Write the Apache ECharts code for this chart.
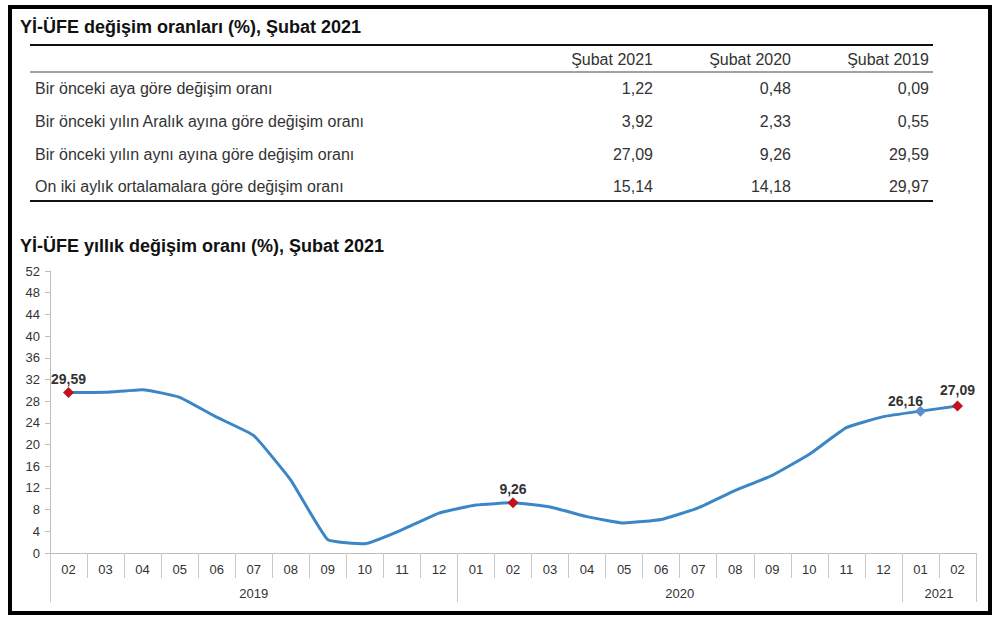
<!DOCTYPE html>
<html>
<head>
<meta charset="utf-8">
<script src="https://cdn.jsdelivr.net/npm/echarts@6/dist/echarts.min.js"></script>
<style>
html,body{margin:0;padding:0;background:#fff;}
#chart{width:1000px;height:624px;}
</style>
</head>
<body>
<div id="chart"></div>
<script>
// ---- Data ----
const tableTitle = 'Yİ-ÜFE değişim oranları (%), Şubat 2021';
const chartTitle = 'Yİ-ÜFE yıllık değişim oranı (%), Şubat 2021';
const tableColumns = ['Şubat 2021', 'Şubat 2020', 'Şubat 2019'];
const tableRowLabels = [
  'Bir önceki aya göre değişim oranı',
  'Bir önceki yılın Aralık ayına göre değişim oranı',
  'Bir önceki yılın aynı ayına göre değişim oranı',
  'On iki aylık ortalamalara göre değişim oranı'
];
const feb2021 = [1.22, 3.92, 27.09, 15.14];
const feb2020 = [0.48, 2.33, 9.26, 14.18];
const feb2019 = [0.09, 0.55, 29.59, 29.97];

const months = ['02','03','04','05','06','07','08','09','10','11','12',
                '01','02','03','04','05','06','07','08','09','10','11','12',
                '01','02'];
const yearLabels = ['2019', '2020', '2021'];
const yearCounts = [11, 12, 2];
const annualChange = [29.59, 29.64, 30.12, 28.71, 25.04, 21.66, 13.45, 2.45, 1.70, 4.26, 7.36,
                      8.84, 9.26, 8.50, 6.71, 5.53, 6.17, 8.33, 11.53, 14.33, 18.20, 23.11, 25.15,
                      26.16, 27.09];
const redPoints = [0, 12, 24];
const bluePoints = [23];

const yMin = 0, yMax = 52, yStep = 4;

// ---- Style helpers ----
const FONT = '"Liberation Sans", Arial, sans-serif';
const fmt = v => v.toFixed(2).replace('.', ',');
const labelOffsets = { 23: [-15, 3], 24: [0, -3] };

const groupBounds = [0];
yearCounts.forEach(c => groupBounds.push(groupBounds[groupBounds.length - 1] + c));
const groupCenters = yearCounts.map((c, i) => groupBounds[i] + c / 2);

const seriesData = annualChange.map((v, i) => {
  const item = { value: v };
  if (redPoints.includes(i) || bluePoints.includes(i)) {
    item.symbol = 'diamond';
    item.symbolSize = 11;
    item.itemStyle = { color: redPoints.includes(i) ? '#c0141c' : '#5b8ccb' };
    item.label = { show: true, offset: labelOffsets[i] || [0, 0] };
  }
  return item;
});

// ---- Table graphics ----
const graphics = [];
graphics.push({
  type: 'rect', shape: { x: 10, y: 7, width: 980, height: 606 },
  style: { fill: 'none', stroke: '#000', lineWidth: 4 }, z: 100
});
graphics.push({
  type: 'text', left: 20, top: 18,
  style: { text: tableTitle, font: 'bold 18px ' + FONT, fill: '#111' }
});
graphics.push({
  type: 'text', left: 20, top: 237,
  style: { text: chartTitle, font: 'bold 18px ' + FONT, fill: '#111' }
});
graphics.push({ type: 'line', shape: { x1: 30, y1: 45, x2: 933, y2: 45 }, style: { stroke: '#111', lineWidth: 2 } });
graphics.push({ type: 'line', shape: { x1: 30, y1: 72, x2: 933, y2: 72 }, style: { stroke: '#444', lineWidth: 1 } });
graphics.push({ type: 'line', shape: { x1: 30, y1: 201, x2: 933, y2: 201 }, style: { stroke: '#111', lineWidth: 2 } });

const colRight = [653, 791, 929];
const headerY = 59;
const rowY = [88, 121, 154, 186];
const tableFont = '16px ' + FONT;
tableColumns.forEach((c, i) => {
  graphics.push({
    type: 'text', x: colRight[i], y: headerY,
    style: { text: c, font: tableFont, fill: '#333', align: 'right', verticalAlign: 'middle' }
  });
});
const cols = [feb2021, feb2020, feb2019];
tableRowLabels.forEach((lab, r) => {
  graphics.push({
    type: 'text', x: 35, y: rowY[r],
    style: { text: lab, font: tableFont, fill: '#333', align: 'left', verticalAlign: 'middle' }
  });
  cols.forEach((col, ci) => {
    graphics.push({
      type: 'text', x: colRight[ci], y: rowY[r],
      style: { text: fmt(col[r]), font: tableFont, fill: '#333', align: 'right', verticalAlign: 'middle' }
    });
  });
});

// ---- Chart ----
const chart = echarts.init(document.getElementById('chart'), null, { renderer: 'svg' });
chart.setOption({
  animation: false,
  backgroundColor: '#fff',
  grid: { left: 50, right: 24, top: 271, bottom: 71 },
  xAxis: [
    {
      type: 'category',
      data: months,
      boundaryGap: true,
      axisLine: { show: true, lineStyle: { color: '#bdbdbd', width: 1 } },
      axisTick: { show: true, interval: 0, length: 25, lineStyle: { color: '#c8c8c8' } },
      axisLabel: { interval: 0, margin: 10, color: '#333', fontSize: 13, fontFamily: FONT },
      splitLine: { show: false }
    },
    {
      type: 'value',
      min: 0, max: months.length,
      position: 'bottom',
      axisLine: { show: false },
      axisTick: { show: true, customValues: groupBounds, length: 49, lineStyle: { color: '#c8c8c8' } },
      axisLabel: {
        show: true, customValues: groupCenters, margin: 34, color: '#333', fontSize: 13, fontFamily: FONT,
        formatter: v => { const i = groupCenters.indexOf(v); return i >= 0 ? yearLabels[i] : ''; }
      },
      splitLine: { show: false }
    }
  ],
  yAxis: {
    type: 'value',
    min: yMin, max: yMax, interval: yStep,
    axisLine: { show: true, lineStyle: { color: '#bdbdbd' } },
    axisTick: { show: true, length: 5, lineStyle: { color: '#bdbdbd' } },
    axisLabel: { margin: 10, color: '#333', fontSize: 13, fontFamily: FONT },
    splitLine: { show: false }
  },
  series: [{
    type: 'line',
    xAxisIndex: 0,
    data: seriesData,
    smooth: 0.12,
    showSymbol: true,
    symbol: 'none',
    lineStyle: { color: '#3a86c6', width: 3 },
    itemStyle: { color: '#3a86c6' },
    label: {
      show: false, position: 'top', distance: 1,
      formatter: p => fmt(p.value),
      color: '#333', fontWeight: 'bold', fontSize: 14, fontFamily: FONT
    },
    z: 3
  }],
  graphic: graphics
});
</script>
</body>
</html>
